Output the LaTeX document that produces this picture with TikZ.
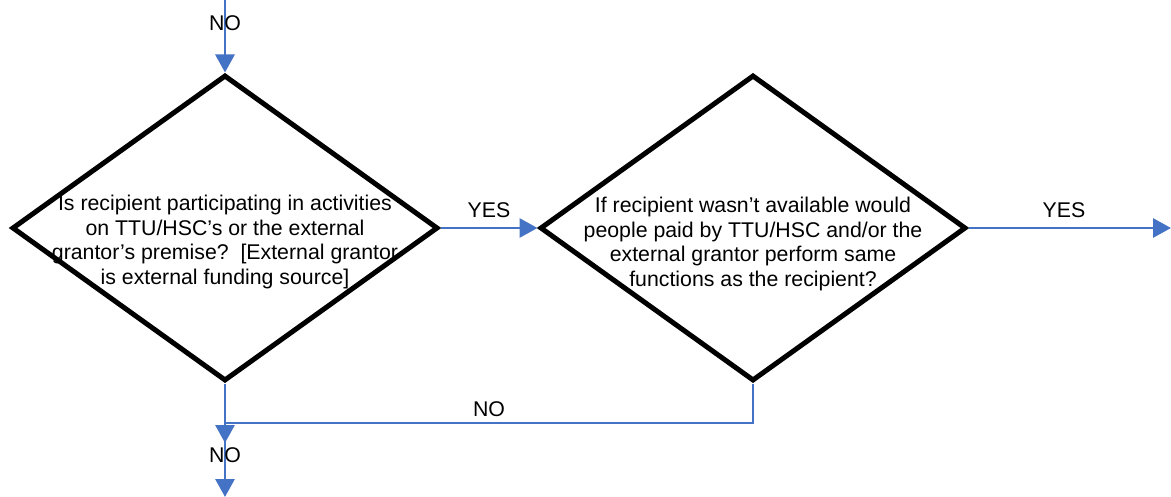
\documentclass[tikz,border=0pt]{standalone}
\usepackage{fontspec}
\setmainfont{Liberation Sans}
\usetikzlibrary{shapes.geometric,arrows.meta}
\definecolor{flowblue}{RGB}{68,114,196}
\begin{document}
\begin{tikzpicture}[x=1pt,y=-1pt,
  dia/.style={diamond,draw=black,line width=5pt,minimum width=426pt,minimum height=306pt,inner sep=0pt,aspect=1.39},
  txt/.style={align=center,font=\fontsize{21.3}{24.8}\selectfont,inner sep=0pt},
  lbl/.style={font=\fontsize{21.3}{25}\selectfont,inner sep=0pt},
  arr/.style={draw=flowblue,line width=2.9pt,-{Triangle[width=19pt,length=18pt]}}]
\useasboundingbox (0,0) rectangle (1171,497);
\node[dia] (d1) at (225,228) {};
\node[dia] (d2) at (753,228) {};
\node[txt] (t1) at (225,242) {Is recipient participating in activities\\on TTU/HSC’s or the external\\grantor’s premise?~~[External grantor\\is external funding source]};
\node[txt] (t2) at (753,244) {If recipient wasn’t available would\\people paid by TTU/HSC and/or the\\external grantor perform same\\functions as the recipient?};
\coordinate (in) at (225,0);
\coordinate (out1) at (1171,228);
\coordinate (out2) at (225,497);
\coordinate (j) at (225,423);
\coordinate (m) at (225,443);
\draw[arr] (in) -- (d1.north);
\draw[arr] (d1.east) -- (d2.west);
\draw[arr] (d2.east) -- (out1);
\draw[arr] (d1.south) -- (out2);
\draw[arr] (d2.south) |- (j) -- (m);
\node[lbl] (n1) at (225,23) {NO};
\node[lbl] (y1) at (489,210) {YES};
\node[lbl] (y2) at (1064,210) {YES};
\node[lbl] (n2) at (489,409) {NO};
\node[lbl] (n3) at (225,455) {NO};
\end{tikzpicture}
\end{document}
